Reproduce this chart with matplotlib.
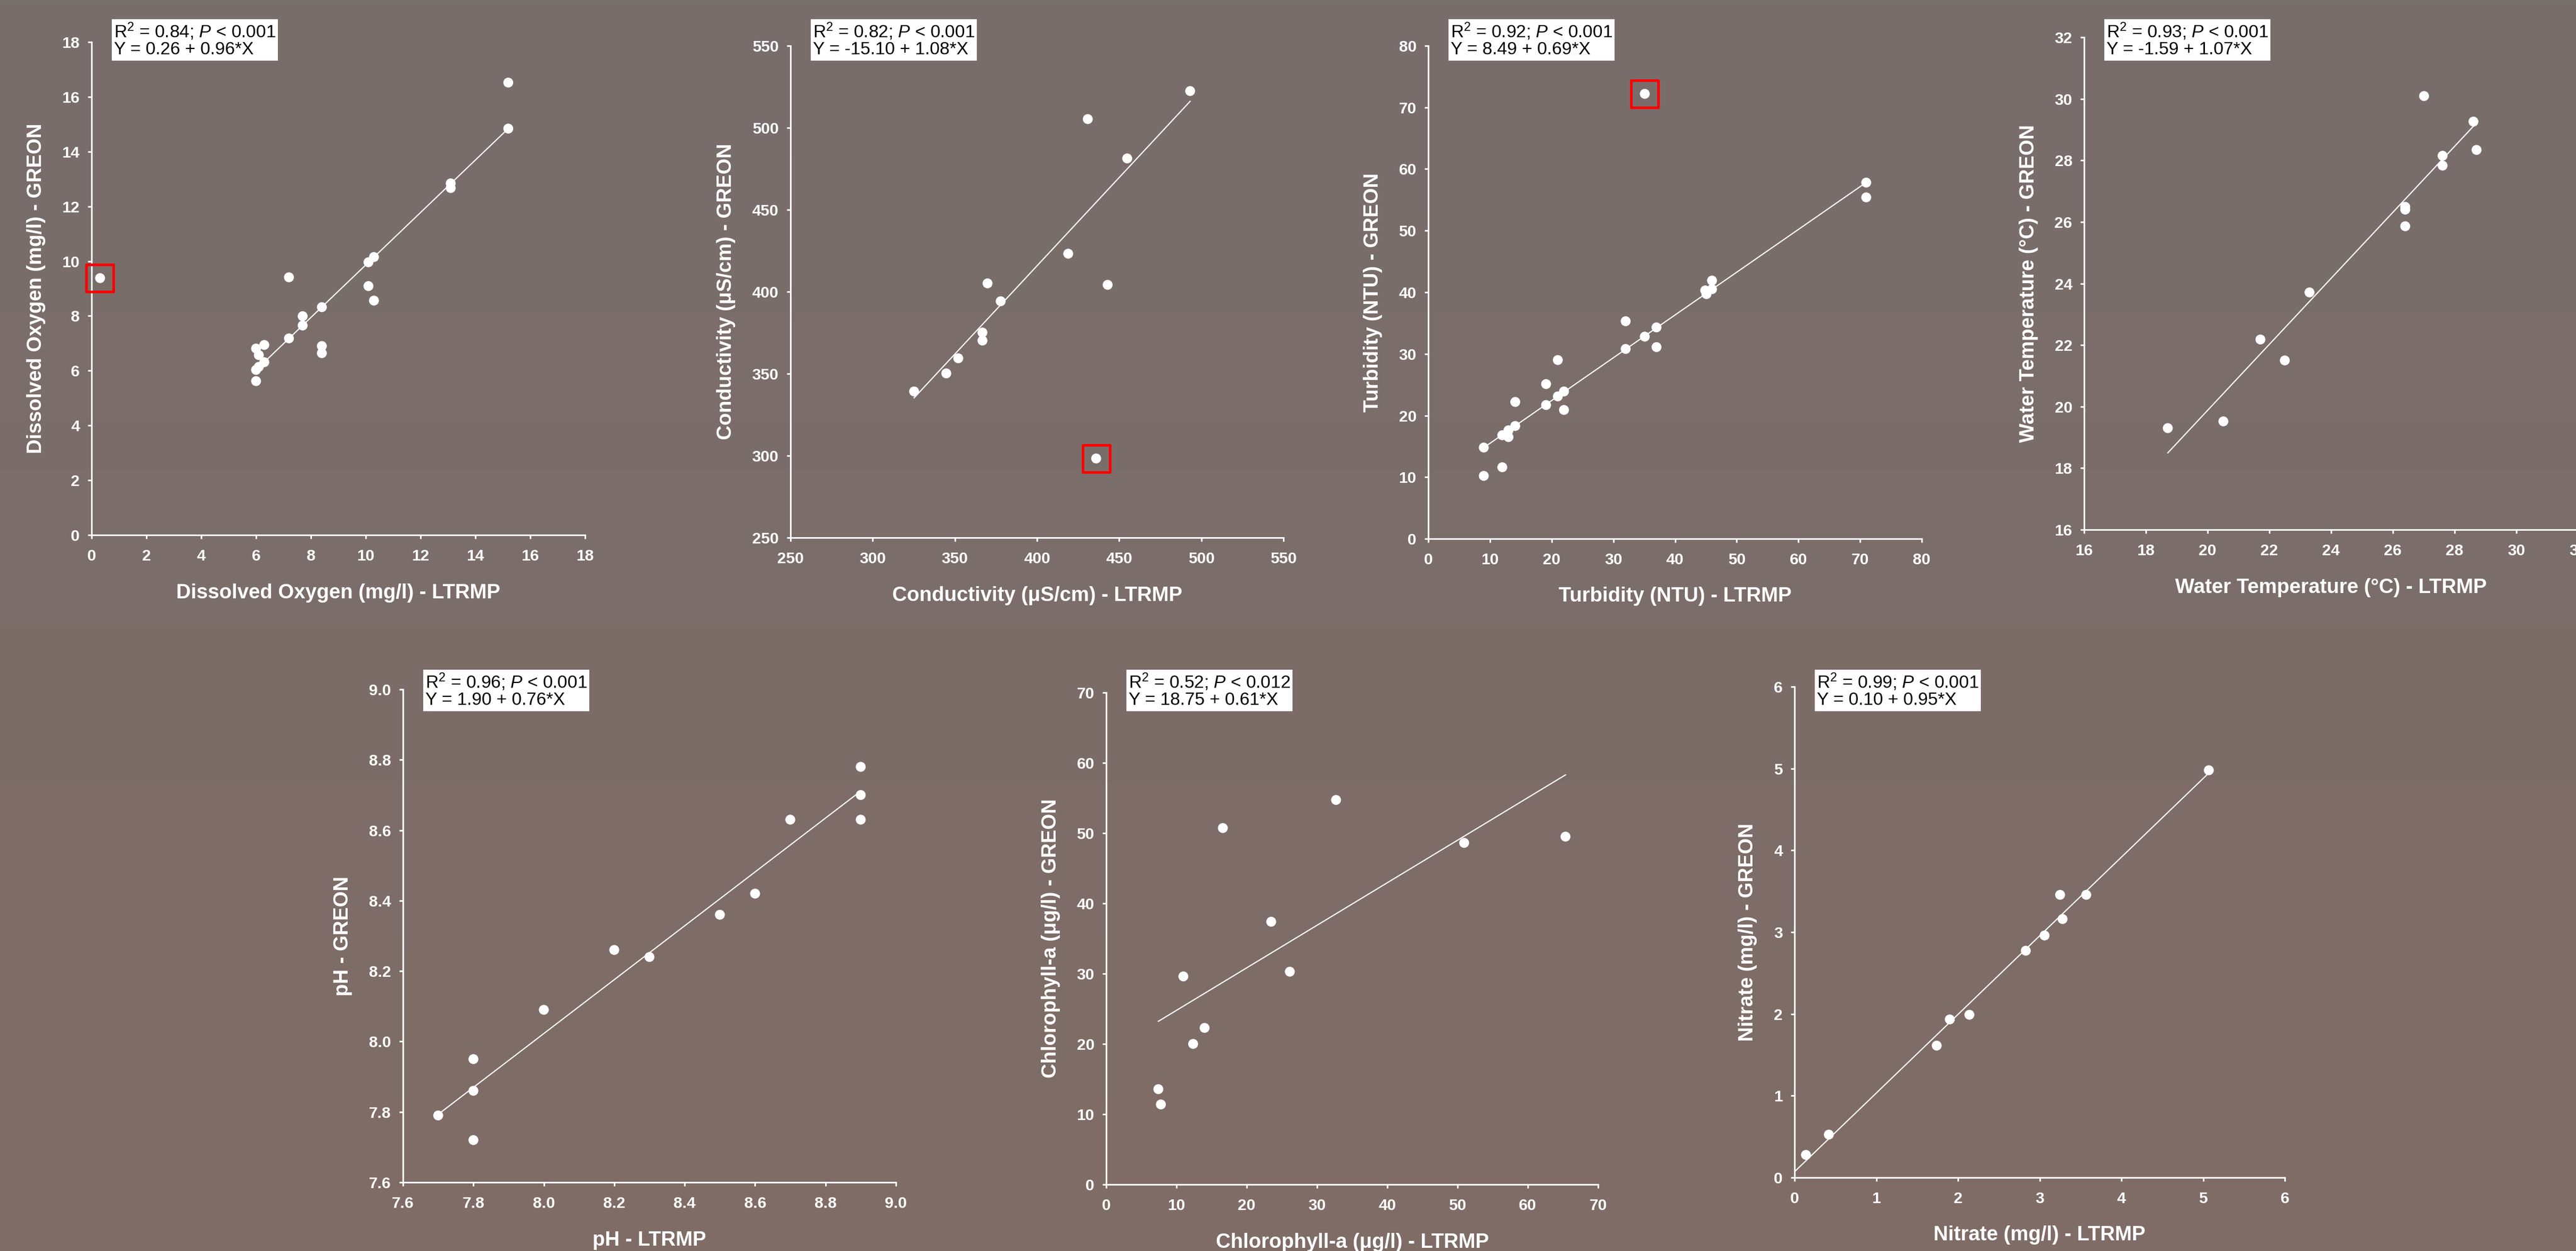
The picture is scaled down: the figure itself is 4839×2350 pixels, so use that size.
import matplotlib
matplotlib.use('Agg')
import matplotlib.pyplot as plt
import numpy as np

do_x = [15.2, 15.2, 13.1, 13.1, 10.1, 10.3, 10.1, 10.3, 8.4, 8.4, 8.4, 7.7, 7.7, 7.2, 7.2,
        6.0, 6.3, 6.1, 6.3, 6.1, 6.0, 6.0]
do_y = [16.52, 14.84, 12.84, 12.67, 9.96, 10.15, 9.09, 8.56, 8.32, 6.90, 6.64, 7.99, 7.65, 7.18, 9.41,
        6.81, 6.94, 6.57, 6.31, 6.14, 6.03, 5.62]
do_out = (0.31, 9.38)
do_stats = ('0.84', '0.001', '0.26 + 0.96*X')

cond_x = [325.2, 344.8, 352.1, 366.8, 366.8, 369.9, 377.9, 419.0, 430.9, 443.0, 454.9, 493.2]
cond_y = [339.2, 350.2, 359.4, 375.1, 370.2, 405.1, 394.2, 423.2, 505.3, 404.2, 481.3, 522.4]
cond_out = (436.0, 298.3)
cond_stats = ('0.82', '0.001', '-15.10 + 1.08*X')

turb_x = [9.0, 9.0, 12.0, 12.0, 13.0, 13.0, 14.1, 14.1, 19.1, 19.1, 21.0, 21.0, 22.0, 22.0,
          32.0, 32.0, 35.1, 37.0, 37.0, 44.9, 45.1, 46.0, 46.0, 71.0, 71.0]
turb_y = [14.8, 10.2, 11.6, 16.8, 17.6, 16.5, 18.3, 22.2, 25.1, 21.7, 29.0, 23.1, 23.9, 20.9,
          35.3, 30.8, 32.8, 34.3, 31.1, 40.3, 39.7, 41.9, 40.5, 57.8, 55.4]
turb_out = (35.1, 72.2)
turb_stats = ('0.92', '0.001', '8.49 + 0.69*X')

temp_x = [18.71, 20.51, 21.71, 22.50, 23.30, 26.40, 26.40, 26.40, 27.01, 27.61, 27.61, 28.61, 28.71]
temp_y = [19.30, 19.52, 22.18, 21.50, 23.71, 26.49, 26.40, 25.86, 30.09, 28.15, 27.83, 29.26, 28.34]
temp_stats = ('0.93', '0.001', '-1.59 + 1.07*X')

ph_x = [7.70, 7.80, 7.80, 7.80, 8.00, 8.20, 8.30, 8.50, 8.60, 8.70, 8.90, 8.90, 8.90]
ph_y = [7.79, 7.95, 7.86, 7.72, 8.09, 8.26, 8.24, 8.36, 8.42, 8.63, 8.78, 8.70, 8.63]
ph_stats = ('0.96', '0.001', '1.90 + 0.76*X')

chl_x = [7.42, 7.78, 10.98, 12.37, 14.0, 16.6, 23.48, 26.13, 32.71, 50.94, 65.36]
chl_y = [13.56, 11.39, 29.61, 20.0, 22.28, 50.72, 37.39, 30.28, 54.72, 48.61, 49.5]
chl_stats = ('0.52', '0.012', '18.75 + 0.61*X')

no3_x = [0.14, 0.42, 1.74, 1.90, 2.14, 2.83, 3.06, 3.25, 3.28, 3.57, 5.07]
no3_y = [0.277, 0.525, 1.613, 1.933, 1.990, 2.773, 2.959, 3.456, 3.160, 3.456, 4.979]
no3_stats = ('0.99', '0.001', '0.10 + 0.95*X')

W, H = 4839, 2350
plt.rcParams['font.family'] = ['Liberation Sans', 'DejaVu Sans']
plt.rcParams['mathtext.fontset'] = 'custom'
plt.rcParams['mathtext.rm'] = 'Liberation Sans'
plt.rcParams['mathtext.it'] = 'Liberation Sans:italic'

fig = plt.figure(figsize=(W / 100, H / 100), dpi=100)

# soft vertical gradient behind everything
bg = fig.add_axes([0, 0, 1, 1], zorder=-10)
top = np.array([120, 110, 108]) / 255
bot = np.array([128, 108, 102]) / 255
t = np.linspace(0, 1, 256)[:, None, None]
bg.imshow(top * (1 - t) + bot * t, aspect='auto', extent=[0, 1, 0, 1])
bg.axis('off')

WHITE = 'white'


def panel(box, box_top, x, y, out, stats, xlim, ylim, step, xlab, ylab, fmt='{:g}', line_from=None):
    # box in pixels: left, right, top, bottom
    l, r, tp, b = box
    ax = fig.add_axes([l / W, 1 - b / H, (r - l) / W, (b - tp) / H])
    ax.patch.set_alpha(0)
    for s in ['top', 'right']:
        ax.spines[s].set_visible(False)
    for s in ['left', 'bottom']:
        ax.spines[s].set_color(WHITE)
        ax.spines[s].set_linewidth(2.2)
    ax.set_xlim(xlim)
    ax.set_ylim(ylim)
    ticks_x = np.arange(xlim[0], xlim[1] + step[0] / 2, step[0])
    ticks_y = np.arange(ylim[0], ylim[1] + step[1] / 2, step[1])
    ax.set_xticks(ticks_x)
    ax.set_yticks(ticks_y)
    ax.set_xticklabels([fmt.format(v) for v in ticks_x])
    ax.set_yticklabels([fmt.format(v) for v in ticks_y])
    ax.tick_params(colors=WHITE, width=2.2, length=5, labelsize=21.5, direction='out')
    ax.tick_params(axis='x', pad=14)
    ax.tick_params(axis='y', pad=11)
    for lab in ax.get_xticklabels() + ax.get_yticklabels():
        lab.set_fontweight('bold')
    ax.set_xlabel(xlab, color=WHITE, fontsize=27.5, fontweight='bold', labelpad=26)
    ax.set_ylabel(ylab, color=WHITE, fontsize=27.5, fontweight='bold', labelpad=22)

    xs, ys = np.array(x), np.array(y)
    slope, icpt = np.polyfit(xs, ys, 1)
    x0 = xs.min() if line_from is None else line_from
    lx = np.array([x0, xs.max()])
    ax.plot(lx, icpt + slope * lx, color=WHITE, lw=1.6, zorder=2)
    ax.scatter(xs, ys, s=180, color=WHITE, edgecolors='none', zorder=3, clip_on=False)
    if out is not None:
        ax.scatter([out[0]], [out[1]], s=180, color=WHITE, edgecolors='none', zorder=3, clip_on=False)
        ax.scatter([out[0]], [out[1]], s=1350, marker='s', facecolors='none',
                   edgecolors='#ff0000', linewidths=3.6, zorder=4, clip_on=False)

    r2, p, eq = stats
    txt = 'R$^2$ = %s; $P$ < %s\nY = %s' % (r2, p, eq)
    fig.text((l + 42) / W, 1 - (box_top + 5) / H, txt, ha='left', va='top', fontsize=24,
             color='black', linespacing=1.0,
             bbox=dict(boxstyle='square,pad=0.12', fc='white', ec='none'))
    return ax


panel((172, 1099, 79, 1005), 35, do_x, do_y, do_out, do_stats, (0, 18), (0, 18), (2, 2),
      'Dissolved Oxygen (mg/l) - LTRMP', 'Dissolved Oxygen (mg/l) - GREON')
panel((1485, 2411, 86, 1010), 35, cond_x, cond_y, cond_out, cond_stats, (250, 550), (250, 550), (50, 50),
      'Conductivity (\u03bcS/cm) - LTRMP', 'Conductivity (\u03bcS/cm) - GREON')
panel((2683, 3610, 86, 1012), 35, turb_x, turb_y, turb_out, turb_stats, (0, 80), (0, 80), (10, 10),
      'Turbidity (NTU) - LTRMP', 'Turbidity (NTU) - GREON')
panel((3915, 4843, 70, 995), 35, temp_x, temp_y, None, temp_stats, (16, 32), (16, 32), (2, 2),
      'Water Temperature (\u00b0C) - LTRMP', 'Water Temperature (\u00b0C) - GREON')
panel((757, 1683, 1295, 2221), 1257, ph_x, ph_y, None, ph_stats, (7.6, 9.0), (7.6, 9.0), (0.2, 0.2),
      'pH - LTRMP', 'pH - GREON', fmt='{:.1f}')
panel((2078, 3002, 1301, 2225), 1257, chl_x, chl_y, None, chl_stats, (0, 70), (0, 70), (10, 10),
      'Chlorophyll-a (\u03bcg/l) - LTRMP', 'Chlorophyll-a (\u03bcg/l) - GREON')
panel((3371, 4292, 1290, 2212), 1257, no3_x, no3_y, None, no3_stats, (0, 6), (0, 6), (1, 1),
      'Nitrate (mg/l) - LTRMP', 'Nitrate (mg/l) - GREON', line_from=0.0)

fig.savefig('out.png', dpi=100)
